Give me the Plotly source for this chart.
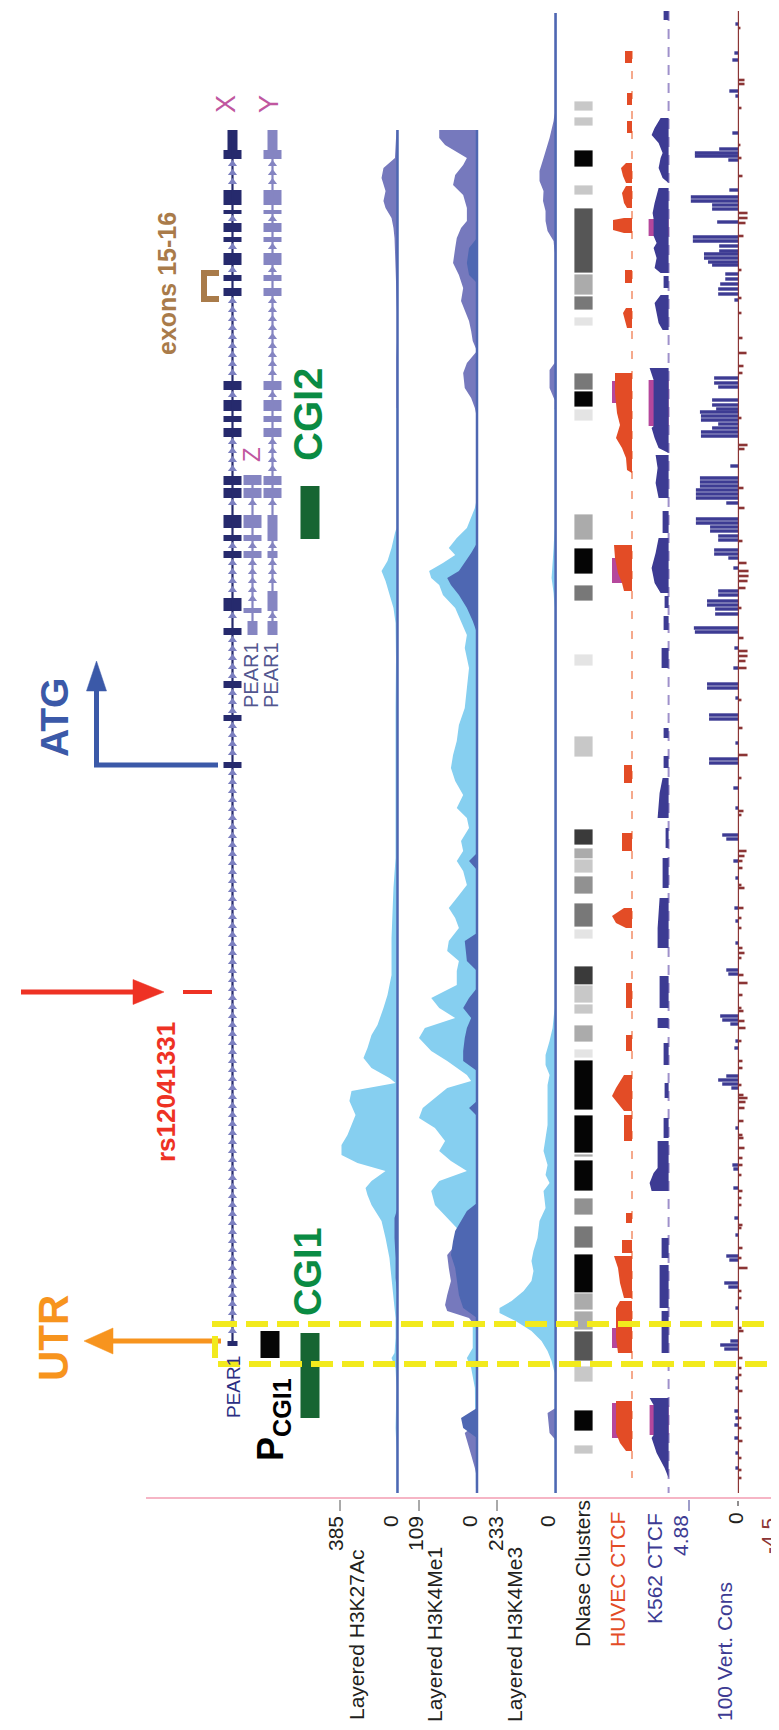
import numpy as np
import plotly.graph_objects as go

W, H = 779, 1730
FONT = "Liberation Sans, Arial, Helvetica, sans-serif"

# ---------------- data (genomic position runs top -> bottom) ----------------
GENE_X_START = [122, 142, 182, 202, 215, 229, 245, 267, 280, 373, 392, 408, 420, 468, 480, 507, 527, 543, 590, 620, 673, 707, 754, 1333]
GENE_X_END = [142, 151, 197, 206, 224, 234, 257, 273, 288, 382, 403, 414, 429, 477, 490, 520, 533, 550, 603, 627, 680, 713, 760, 1338]
GENE_X_THICK = [0, 1, 1, 1, 1, 1, 1, 1, 1, 1, 1, 1, 1, 1, 1, 1, 1, 1, 1, 1, 1, 1, 1, 0]
GENE_Y_START = [122, 142, 182, 202, 215, 229, 245, 267, 280, 373, 392, 408, 420, 468, 480, 507, 543, 583, 613]
GENE_Y_END = [142, 151, 197, 206, 224, 234, 257, 273, 288, 382, 403, 414, 429, 477, 490, 533, 550, 603, 627]
GENE_Y_THICK = [0, 1, 1, 1, 1, 1, 1, 1, 1, 1, 1, 1, 1, 1, 1, 0, 0, 0, 0]
GENE_Z_START = [467, 480, 507, 527, 543, 600, 613]
GENE_Z_END = [477, 490, 520, 533, 550, 605, 627]
GENE_Z_THICK = [1, 1, 1, 1, 1, 1, 0]

PCGI1_START, PCGI1_END = [1323], [1350]
CGI_START = [478, 1325]
CGI_END = [531, 1410]
SNP_POS = [984]

# Layered H3K27Ac (0-385)
K27AC_LAV_POS = [122, 150, 160, 170, 183, 193, 200, 210, 220, 230, 260, 300, 320, 350, 400]
K27AC_LAV_VAL = [7, 17, 94, 107, 80, 94, 80, 40, 27, 20, 13, 7, 0, 7, 7]
K27AC_LB_POS = [400, 520, 525, 540, 553, 563, 573, 587, 600, 615, 650, 700, 750, 800, 850, 880, 930, 967,
                987, 1000, 1017, 1027, 1040, 1050, 1060, 1070, 1075, 1083, 1093, 1107, 1117, 1127, 1137, 1147,
                1155, 1163, 1173, 1180, 1187, 1197, 1213, 1230, 1250, 1270, 1290, 1310, 1330, 1345, 1350, 1360,
                1380, 1420, 1440, 1485]
K27AC_LB_VAL = [7, 7, 17, 40, 67, 107, 80, 54, 27, 13, 10, 13, 13, 10, 13, 27, 40, 40,
                67, 94, 134, 174, 201, 228, 174, 54, 13, 308, 322, 281, 308, 335, 375, 375,
                268, 80, 174, 214, 201, 174, 107, 80, 54, 40, 27, 13, 13, 20, 40, 13,
                7, 13, 7, 7]
K27AC_DK_POS = [1200, 1210, 1230, 1250, 1270, 1290]
K27AC_DK_VAL = [0, 20, 20, 13, 13, 0]

# Layered H3K4Me1 (0-109)
ME1_LB_POS = [410, 490, 500, 510, 520, 530, 540, 547, 555, 563, 570, 577, 587, 600, 613, 627, 640, 660, 680, 700,
              717, 733, 747, 760, 773, 787, 800, 810, 820, 833, 843, 853, 863, 877, 890, 900, 910, 920, 933, 943,
              953, 963, 977, 990, 1000, 1010, 1020, 1030, 1043, 1053, 1067, 1073, 1080, 1090, 1100, 1110, 1120,
              1133, 1143, 1153, 1163, 1173, 1183, 1197, 1210, 1220, 1230, 1240, 1250, 1310, 1320, 1340, 1350,
              1360, 1380, 1480]
ME1_LB_VAL = [0, 0, 4, 11, 19, 38, 53, 41, 64, 90, 86, 71, 64, 41, 30, 19, 23, 15, 19, 23,
              34, 38, 45, 49, 41, 26, 38, 19, 15, 30, 26, 38, 26, 19, 38, 53, 41, 34, 53, 56,
              34, 38, 38, 86, 71, 41, 98, 109, 86, 56, 19, 11, 56, 79, 102, 109, 79,
              60, 71, 49, 19, 71, 86, 79, 56, 38, 30, 15, 11, 11, 8, 8, 19,
              11, 4, 2]
ME1_LAV_POS = [122, 130, 137, 143, 150, 157, 167, 177, 187, 200, 213, 220, 230, 240, 255, 267, 280, 293, 303, 313,
               323, 333, 343, 350, 355, 365, 380, 390, 400, 410, 1230, 1240, 1247, 1260, 1273, 1287, 1297, 1303,
               1310, 1320, 1415, 1425, 1433, 1447, 1460, 1470]
ME1_LAV_VAL = [71, 71, 60, 41, 19, 26, 41, 45, 26, 19, 19, 30, 38, 41, 45, 34, 26, 30, 23, 15,
               11, 8, 0, 11, 19, 26, 23, 11, 4, 0, 0, 45, 56, 53, 49, 56, 60, 56,
               15, 0, 0, 23, 19, 11, 4, 0]
ME1_DK_POS = [230, 240, 255, 267, 275, 535, 545, 555, 563, 570, 577, 587, 600, 613, 625, 845, 853, 862,
              925, 933, 953, 963, 980, 990, 1000, 1010, 1020, 1030, 1043, 1053, 1063, 1093, 1100, 1108,
              1195, 1203, 1213, 1223, 1233, 1247, 1260, 1273, 1287, 1300, 1310, 1400, 1410, 1420, 1430]
ME1_DK_VAL = [0, 15, 19, 15, 0, 0, 11, 23, 34, 56, 49, 34, 19, 8, 0, 0, 15, 0,
              0, 23, 19, 0, 0, 15, 26, 11, 19, 23, 26, 26, 0, 0, 15, 0,
              0, 19, 30, 41, 45, 49, 41, 38, 34, 26, 0, 0, 30, 26, 0]

# Layered H3K4Me3 (0-233)
ME3_LAV_POS = [5, 105, 113, 130, 150, 163, 173, 183, 193, 203, 213, 223, 233, 245, 330, 355, 362, 380, 392, 400,
               405, 1395, 1400, 1405, 1415, 1425, 1432]
ME3_LAV_VAL = [4, 4, 8, 24, 48, 64, 64, 48, 50, 40, 40, 32, 8, 4, 4, 4, 24, 24, 4, 4,
               0, 0, 0, 32, 28, 24, 0]
ME3_LB_POS = [400, 520, 540, 555, 570, 585, 600, 1000, 1020, 1033, 1047, 1057, 1067, 1077, 1090, 1103, 1117,
              1130, 1143, 1157, 1167, 1175, 1183, 1200, 1213, 1230, 1243, 1253, 1263, 1273, 1283, 1293, 1300,
              1305, 1313, 1323, 1333, 1343, 1353, 1365, 1485]
ME3_LB_VAL = [4, 4, 8, 12, 16, 8, 4, 4, 12, 24, 40, 40, 24, 32, 32, 32, 32,
              40, 48, 32, 40, 24, 48, 40, 64, 72, 88, 96, 88, 96, 127, 175, 223,
              223, 159, 96, 56, 32, 16, 4, 4]

# DNase clusters (start, end, score 0-1000)
DNASE_START = [93, 109, 142, 177, 200, 266, 288, 309, 365, 383, 401, 506, 540, 577, 646, 728, 821, 840, 851, 868,
               895, 921, 958, 977, 996, 1017, 1041, 1052, 1107, 1146, 1152, 1190, 1218, 1246, 1285, 1303, 1323,
               1358, 1402, 1437]
DNASE_END = [103, 118, 159, 187, 265, 287, 302, 318, 382, 399, 413, 532, 566, 593, 658, 749, 837, 851, 865, 886,
             919, 931, 977, 995, 1006, 1034, 1050, 1102, 1145, 1149, 1183, 1207, 1240, 1285, 1302, 1322, 1353,
             1374, 1423, 1446]
DNASE_SCORE = [150, 150, 1000, 150, 650, 280, 500, 30, 500, 1000, 30, 280, 1000, 500, 30, 150, 770, 280, 150, 390,
               500, 30, 770, 150, 150, 280, 30, 1000, 1000, 280, 1000, 390, 500, 1000, 280, 280, 650,
               150, 1000, 150]

# HUVEC CTCF signal
HUVEC_POS = [43, 43, 55, 55, 85, 85, 97, 97, 113, 113, 125, 125,
             155, 155, 160, 168, 175, 175, 178, 178, 185, 195, 200, 200,
             210, 210, 212, 222, 225, 225, 262, 262, 275, 275,
             300, 300, 305, 312, 320, 320,
             365, 365, 385, 395, 405, 417, 430, 440, 450, 462, 465,
             537, 537, 550, 565, 575, 583, 583, 757, 757, 775, 775, 825, 825, 843, 843,
             900, 900, 908, 915, 920, 920, 975, 975, 1000, 1000, 1027, 1027, 1043, 1043,
             1067, 1067, 1080, 1088, 1095, 1103, 1103, 1107, 1107, 1133, 1133,
             1205, 1205, 1215, 1215, 1232, 1232, 1245, 1245,
             1248, 1248, 1260, 1275, 1290, 1290, 1293, 1293, 1300, 1330, 1345, 1345,
             1393, 1393, 1425, 1435, 1443, 1443]
HUVEC_VAL = [0, 7, 7, 0, 0, 5, 5, 0, 0, 5, 5, 0,
             0, 6, 11, 9, 6, 0, 0, 6, 10, 8, 5, 0,
             0, 8, 19, 19, 8, 0, 0, 7, 7, 0,
             0, 6, 9, 7, 5, 0,
             0, 17, 17, 16, 15, 12, 16, 10, 6, 5, 0,
             0, 18, 17, 14, 10, 8, 0, 0, 8, 8, 0, 0, 10, 10, 0,
             0, 8, 20, 16, 6, 0, 0, 6, 6, 0, 0, 6, 6, 0,
             0, 8, 16, 20, 14, 8, 0, 0, 8, 8, 0,
             0, 6, 6, 0, 0, 10, 10, 0,
             0, 18, 14, 12, 8, 0, 0, 12, 16, 16, 14, 0,
             0, 16, 16, 12, 6, 0]
HUVEC_OVL_POS = [373, 373, 395, 395, 550, 550, 575, 575, 1320, 1320, 1340, 1340, 1395, 1395, 1430, 1430]
HUVEC_OVL_VAL = [0, 20, 20, 0, 0, 20, 20, 0, 0, 20, 20, 0, 0, 20, 20, 0]

# K562 CTCF signal
K562_POS = [3, 3, 12, 12,
            110, 110, 120, 127, 135, 145, 150, 160, 170, 175,
            180, 180, 195, 205, 211, 228, 235, 240, 250, 260, 265, 265,
            268, 268, 280, 280, 287, 287, 295, 305, 315, 322, 322,
            360, 360, 372, 418, 420, 430, 440, 445,
            447, 447, 460, 475, 490, 490, 503, 503, 525, 525,
            530, 530, 545, 560, 575, 585, 585, 588, 588, 600, 600, 608, 608, 622, 622,
            640, 640, 660, 660, 720, 720, 730, 730, 748, 748, 760, 760,
            770, 770, 785, 810, 810, 820, 820, 840, 840, 850, 850, 880, 880,
            890, 890, 920, 940, 940, 968, 968, 1000, 1000, 1010, 1010, 1020, 1020,
            1035, 1035, 1057, 1057, 1075, 1075, 1090, 1090, 1110, 1110, 1130, 1130,
            1133, 1133, 1160, 1165, 1175, 1183, 1183,
            1230, 1230, 1250, 1250, 1257, 1257, 1300, 1300, 1303, 1303, 1345, 1345,
            1390, 1390, 1397, 1427, 1430, 1445, 1460, 1470]
K562_VAL = [0, 5, 5, 0,
            0, 8, 14, 17, 10, 6, 8, 10, 6, 0,
            0, 10, 14, 16, 15, 15, 12, 15, 12, 14, 8, 0,
            0, 5, 5, 0, 0, 8, 14, 12, 10, 6, 0,
            0, 19, 15, 15, 17, 14, 10, 0,
            0, 13, 11, 13, 10, 0, 0, 6, 6, 0,
            0, 10, 13, 17, 14, 8, 0, 0, 4, 4, 0, 0, 5, 5, 0,
            0, 7, 7, 0, 0, 5, 5, 0, 0, 5, 5, 0,
            0, 6, 9, 11, 0, 0, 3, 3, 0, 0, 6, 6, 0,
            0, 9, 11, 11, 0, 0, 9, 9, 0, 0, 11, 11, 0,
            0, 5, 5, 0, 0, 4, 4, 0, 0, 5, 5, 0,
            0, 11, 11, 15, 19, 17, 0,
            0, 7, 7, 0, 0, 9, 9, 0, 0, 7, 7, 0,
            0, 19, 15, 15, 17, 12, 4, 0]
K562_OVL_POS = [211, 211, 228, 228, 372, 372, 418, 418, 1397, 1397, 1427, 1427]
K562_OVL_VAL = [0, 20, 20, 0, 0, 20, 20, 0, 0, 19, 19, 0]

# 100 Vertebrates conservation
CONS_UP_POS = [16, 45, 52, 83, 88, 125, 141, 145, 148, 152, 182, 189, 193, 197, 201, 214, 229, 233, 238, 243, 246,
               250, 254, 257, 266, 271, 276, 281, 286, 292, 370, 375, 379, 392, 397, 401, 404, 408, 412, 416, 420,
               424, 428, 458, 470, 474, 478, 482, 486, 490, 495, 511, 515, 519, 523, 528, 532, 542, 546, 550, 560,
               583, 587, 593, 597, 601, 606, 620, 624, 640, 660, 676, 680, 690, 707, 711, 735, 751, 755, 780, 800,
               827, 831, 853, 870, 900, 913, 935, 962, 966, 1008, 1012, 1016, 1033, 1040, 1068, 1072, 1076, 1080,
               1120, 1157, 1161, 1180, 1210, 1227, 1248, 1252, 1275, 1279, 1300, 1333, 1337, 1341, 1370, 1380,
               1403, 1410, 1417, 1430, 1445, 1460]
CONS_UP_VAL = [0.3, 0.4, 0.6, 0.9, 0.3, 0.6, 1.9, 4.3, 4.3, 1.0, 0.9, 4.7, 4.7, 2.6, 2.6, 2.1, 4.5, 4.5, 1.9, 1.9, 3.4,
               3.4, 3.0, 2.6, 1.3, 1.3, 1.8, 2.0, 2.0, 0.4, 2.4, 2.4, 2.0, 2.6, 2.6, 2.2, 3.8, 3.7, 3.7, 2.0, 2.6,
               3.7, 3.7, 0.8, 3.8, 3.8, 3.8, 4.2, 4.2, 4.2, 1.2, 4.2, 4.2, 2.8, 2.8, 2.0, 2.0, 2.4, 2.4, 1.0, 0.5,
               2.0, 2.0, 3.1, 3.1, 2.3, 2.3, 4.4, 4.3, 0.4, 0.5, 3.1, 3.1, 0.3, 2.9, 2.9, 0.3, 2.9, 2.9, 0.5, 0.3,
               1.6, 1.2, 0.5, 0.3, 0.4, 0.3, 0.3, 1.2, 1.0, 1.8, 1.6, 0.8, 0.3, 0.4, 1.2, 2.0, 1.6, 0.7,
               0.3, 0.6, 0.5, 0.5, 0.4, 0.3, 1.2, 0.9, 1.4, 1.0, 0.3, 0.8, 1.8, 1.4, 0.3, 0.3,
               0.4, 0.3, 0.4, 0.4, 0.3, 0.3]
CONS_DN_POS = [20, 72, 76, 100, 137, 150, 168, 205, 210, 215, 228, 262, 290, 305, 330, 345, 358, 365, 410, 437, 441,
               480, 500, 533, 555, 563, 568, 573, 580, 600, 630, 643, 648, 653, 660, 692, 720, 747, 770, 803, 807,
               843, 848, 853, 860, 877, 880, 900, 910, 920, 940, 945, 950, 967, 975, 987, 1000, 1003, 1013, 1020,
               1033, 1053, 1060, 1077, 1087, 1090, 1094, 1100, 1113, 1127, 1130, 1140, 1150, 1157, 1167, 1183, 1190,
               1197, 1217, 1220, 1240, 1250, 1260, 1283, 1290, 1320, 1323, 1350, 1360, 1367, 1383, 1410, 1420, 1433,
               1450, 1462, 1470]
CONS_DN_VAL = [-0.2, -0.6, -0.6, -0.3, -0.2, -0.3, -0.4, -0.9, -0.9, -0.7, -0.5, -0.3, -0.3, -0.3, -0.4, -0.8, -0.5,
               -0.4, -0.3, -0.9, -0.6, -0.5, -0.6, -0.4, -0.8, -1.0, -1.0, -0.9, -0.7, -0.3, -0.5, -0.9, -0.9, -0.7,
               -0.8, -0.3, -0.4, -0.9, -0.3, -0.5, -0.3, -0.8, -0.6, -0.4, -0.4, -0.3, -0.6, -0.5, -0.3, -0.3, -0.4,
               -0.6, -0.3, -0.5, -0.9, -0.4, -0.3, -0.5, -0.6, -0.7, -0.3, -0.4, -0.4, -0.3, -0.5, -0.9, -0.7, -0.6,
               -0.5, -0.4, -0.5, -0.6, -0.4, -0.4, -0.3, -0.4, -0.3, -0.3, -0.4, -0.3, -0.4, -0.3, -0.9, -0.3, -0.3,
               -0.3, -0.5, -0.4, -0.3, -0.3, -0.4, -0.3, -0.3, -0.4, -0.3, -0.3, -0.3]

TRACK_LABELS = ["Layered H3K27Ac", "Layered H3K4Me1", "Layered H3K4Me3", "DNase Clusters",
                "HUVEC CTCF", "K562 CTCF", "100 Vert. Cons"]

for a, b in [(K27AC_LAV_POS, K27AC_LAV_VAL), (K27AC_LB_POS, K27AC_LB_VAL), (ME1_LB_POS, ME1_LB_VAL),
             (ME1_LAV_POS, ME1_LAV_VAL), (ME1_DK_POS, ME1_DK_VAL), (ME3_LAV_POS, ME3_LAV_VAL),
             (ME3_LB_POS, ME3_LB_VAL), (HUVEC_POS, HUVEC_VAL), (K562_POS, K562_VAL),
             (CONS_UP_POS, CONS_UP_VAL), (CONS_DN_POS, CONS_DN_VAL), (DNASE_START, DNASE_END),
             (DNASE_START, DNASE_SCORE), (HUVEC_OVL_POS, HUVEC_OVL_VAL), (K562_OVL_POS, K562_OVL_VAL)]:
    assert len(a) == len(b), (len(a), len(b))

# ---------------- colours ----------------
LIGHTBLUE = "#86CFF0"
LAVENDER = "#7679BD"
DARKBLUE = "#4E67B2"
NAVY = "#262A6D"
GENE_LAV = "#8585C2"
CHEVRON = "#7C80C0"
HUVEC_C = "#E34C26"
OVL_C = "#B5479C"
K562_C = "#3D3B93"
CONS_NEG = "#8B3535"
CGI_BAR = "#176532"
CGI_TXT = "#0A8B43"
ORANGE = "#F7941E"
ATG_BLUE = "#3B59A8"
RED = "#EE3224"
YELLOW = "#F2EA1D"
BROWN = "#A97B4A"
MAGENTA = "#C0579F"

fig = go.Figure()


def area(pos, val, color, ax):
    fig.add_trace(go.Scatter(x=val, y=pos, xaxis=ax, yaxis="y", mode="lines",
                             line=dict(width=0, color=color), fill="tozerox", fillcolor=color,
                             hoverinfo="skip", showlegend=False))


def baseline(ax, y0, y1, color, width, dash="solid"):
    fig.add_trace(go.Scatter(x=[0, 0], y=[y0, y1], xaxis=ax, yaxis="y", mode="lines",
                             line=dict(color=color, width=width, dash=dash),
                             hoverinfo="skip", showlegend=False))


# histone tracks
area(K27AC_LAV_POS, K27AC_LAV_VAL, LAVENDER, "x2")
area(K27AC_LB_POS, K27AC_LB_VAL, LIGHTBLUE, "x2")
area(K27AC_DK_POS, K27AC_DK_VAL, DARKBLUE, "x2")
baseline("x2", 122, 1485, DARKBLUE, 2.5)

area(ME1_LB_POS, ME1_LB_VAL, LIGHTBLUE, "x3")
area(ME1_LAV_POS, ME1_LAV_VAL, LAVENDER, "x3")
area(ME1_DK_POS, ME1_DK_VAL, DARKBLUE, "x3")
baseline("x3", 122, 1485, DARKBLUE, 2.5)

area(ME3_LB_POS, ME3_LB_VAL, LIGHTBLUE, "x4")
area(ME3_LAV_POS, ME3_LAV_VAL, LAVENDER, "x4")
baseline("x4", 5, 1485, DARKBLUE, 2.5)

# CTCF
baseline("x5", 43, 1470, "#F5A98C", 2, "8px,12px")
area(HUVEC_OVL_POS, HUVEC_OVL_VAL, OVL_C, "x5")
area(HUVEC_POS, HUVEC_VAL, HUVEC_C, "x5")

baseline("x6", 3, 1485, "#9F91CB", 2, "10px,8px")
area(K562_OVL_POS, K562_OVL_VAL, OVL_C, "x6")
area(K562_POS, K562_VAL, K562_C, "x6")

# conservation
baseline("x7", 3, 1485, CONS_NEG, 1.2)
fig.add_trace(go.Bar(x=CONS_UP_VAL, y=CONS_UP_POS, orientation="h", width=3.4, xaxis="x7", yaxis="y",
                     marker=dict(color=K562_C, line=dict(width=0)), hoverinfo="skip", showlegend=False))
fig.add_trace(go.Bar(x=CONS_DN_VAL, y=CONS_DN_POS, orientation="h", width=2.6, xaxis="x7", yaxis="y",
                     marker=dict(color=CONS_NEG, line=dict(width=0)), hoverinfo="skip", showlegend=False))

# gene models
for name, st, en, th, col, chev in [("X", GENE_X_START, GENE_X_END, GENE_X_THICK, NAVY, CHEVRON),
                                    ("Z", GENE_Z_START, GENE_Z_END, GENE_Z_THICK, GENE_LAV, GENE_LAV),
                                    ("Y", GENE_Y_START, GENE_Y_END, GENE_Y_THICK, GENE_LAV, GENE_LAV)]:
    fig.add_trace(go.Scatter(x=[name, name], y=[st[0], en[-1]], xaxis="x8", yaxis="y", mode="lines",
                             line=dict(color=col, width=2.2), hoverinfo="skip", showlegend=False))
    cp = []
    for i in range(len(st) - 1):
        cp.extend(np.arange(en[i] + 5, st[i + 1] - 3, 9.0).tolist())
    fig.add_trace(go.Scatter(x=[name] * len(cp), y=cp, xaxis="x8", yaxis="y", mode="markers",
                             marker=dict(symbol="triangle-up", size=8, color=chev),
                             hoverinfo="skip", showlegend=False))
    fig.add_trace(go.Bar(x=[name] * len(st), y=[e - s for s, e in zip(st, en)], base=st,
                         width=[0.9 if t else 0.5 for t in th], xaxis="x8", yaxis="y",
                         marker=dict(color=col, line=dict(width=0)), hoverinfo="skip", showlegend=False))


# DNase clusters
def gray(s):
    v = int(round(235 - 0.23 * s))
    return f"rgb({v},{v},{v})"


fig.add_trace(go.Bar(x=["DNase"] * len(DNASE_START), y=[e - s for s, e in zip(DNASE_START, DNASE_END)],
                     base=DNASE_START, width=1, xaxis="x9", yaxis="y",
                     marker=dict(color=[gray(s) for s in DNASE_SCORE], line=dict(width=0.8, color="white")),
                     hoverinfo="skip", showlegend=False))

# promoter / CpG islands
fig.add_trace(go.Bar(x=["P"], y=[PCGI1_END[0] - PCGI1_START[0]], base=PCGI1_START, width=0.95,
                     xaxis="x10", yaxis="y", marker=dict(color="#050505", line=dict(width=0)),
                     hoverinfo="skip", showlegend=False))
fig.add_trace(go.Bar(x=["CGI"] * len(CGI_START), y=[e - s for s, e in zip(CGI_START, CGI_END)], base=CGI_START,
                     width=0.95, xaxis="x10", yaxis="y", marker=dict(color=CGI_BAR, line=dict(width=0)),
                     hoverinfo="skip", showlegend=False))
# SNP
fig.add_trace(go.Bar(x=["rs12041331"], y=[4], base=[SNP_POS[0] - 2], width=1, xaxis="x11", yaxis="y",
                     marker=dict(color=RED, line=dict(width=0)), hoverinfo="skip", showlegend=False))


# ---------------- layout ----------------
def track_axis(left_px, base_px, vmax, pad=6):
    ppu = (base_px - left_px) / vmax
    return dict(domain=[(left_px - pad) / W, (base_px + pad) / W],
                range=[vmax + pad / ppu, -pad / ppu], visible=False, fixedrange=True, anchor="y")


def cat_axis(left_px, right_px, cats):
    return dict(domain=[left_px / W, right_px / W], type="category", categoryorder="array",
                categoryarray=cats, range=[-0.5, len(cats) - 0.5], visible=False, fixedrange=True, anchor="y")


layout_axes = dict(
    xaxis=dict(domain=[0, 1], range=[0, W], visible=False, fixedrange=True),
    yaxis=dict(domain=[0, 1], range=[H, 0], visible=False, fixedrange=True),
    xaxis2=track_axis(332, 389.5, 385),
    xaxis3=track_axis(411, 469, 109),
    xaxis4=track_axis(489, 547.6, 233),
    xaxis5=track_axis(600, 624, 24),
    xaxis6=track_axis(638, 660.6, 22.6),
    xaxis7=dict(domain=[681 / W, 776 / W], range=[4.88, -4.5], visible=False, fixedrange=True, anchor="y"),
    xaxis8=cat_axis(214.5, 274.5, ["X", "Z", "Y"]),
    xaxis9=cat_axis(566, 585, ["DNase"]),
    xaxis10=cat_axis(252, 312, ["P", "gap", "CGI"]),
    xaxis11=cat_axis(175, 204, ["rs12041331"]),
)


def txt(text, x, y, size, color, bold=False, angle=-90):
    t = f"<b>{text}</b>" if bold else text
    return dict(text=t, x=x, y=y, xref="x", yref="y", showarrow=False, textangle=angle,
                xanchor="center", yanchor="middle", font=dict(family=FONT, size=size, color=color))


ann = [
    txt("UTR", 45, 1330, 42, ORANGE, True),
    txt("ATG", 46, 710, 39, ATG_BLUE, True),
    txt("rs12041331", 158, 1084, 26, RED, True),
    txt("exons 15-16", 159, 276, 25, BROWN, True),
    txt("X", 218, 96, 27, MAGENTA),
    txt("Y", 261, 96, 27, MAGENTA),
    txt("Z", 243, 447, 24, MAGENTA),
    txt("PEAR1", 243, 667, 20, "#52568F"),
    txt("PEAR1", 263, 667, 20, "#52568F"),
    txt("PEAR1", 225, 1379, 19, "#2B2E83"),
    txt("CGI2", 300, 407, 40, CGI_TXT, True),
    txt("CGI1", 300, 1264, 38, CGI_TXT, True),
    txt("P<sub>CGI1</sub>", 265, 1412, 36, "#000000", True),
    # axis values
    txt("385", 327, 1526, 21, "#231F20"),
    txt("0", 382, 1513, 21, "#231F20"),
    txt("109", 407, 1526, 21, "#231F20"),
    txt("0", 461, 1513, 21, "#231F20"),
    txt("233", 487, 1526, 21, "#231F20"),
    txt("0", 539, 1513, 21, "#231F20"),
    txt("4.88", 672, 1528, 21, K562_C),
    txt("0", 727, 1510, 21, "#231F20"),
    txt("-4.5", 760, 1528, 21, CONS_NEG),
    # track labels
    txt(TRACK_LABELS[0], 348, 1627, 21, "#231F20"),
    txt(TRACK_LABELS[1], 426, 1627, 21, "#231F20"),
    txt(TRACK_LABELS[2], 506, 1627, 21, "#231F20"),
    txt(TRACK_LABELS[3], 574, 1566, 21, "#231F20"),
    txt(TRACK_LABELS[4], 609, 1572, 21, HUVEC_C),
    txt(TRACK_LABELS[5], 646, 1561, 21, K562_C),
    txt(TRACK_LABELS[6], 716, 1644, 21, K562_C),
]


def arrow_shapes(tip, tail, head_len, head_half, color, lw):
    (tx, ty), (sx, sy) = tip, tail
    L = ((tx - sx) ** 2 + (ty - sy) ** 2) ** 0.5
    dx, dy = (tx - sx) / L, (ty - sy) / L
    bx, by = tx - dx * head_len, ty - dy * head_len
    px, py = -dy * head_half, dx * head_half
    return [
        dict(type="line", xref="x", yref="y", x0=sx, y0=sy, x1=bx + dx * 2, y1=by + dy * 2,
             line=dict(color=color, width=lw)),
        dict(type="path", xref="x", yref="y",
             path=f"M {tx} {ty} L {bx + px} {by + py} L {bx - px} {by - py} Z",
             fillcolor=color, line=dict(color=color, width=0.5)),
    ]


shapes = [
    dict(type="line", xref="x", yref="y", x0=138, x1=779, y0=1490, y1=1490, line=dict(color="#F6B5C5", width=2)),
    dict(type="path", xref="x", yref="y", path="M 210 757 L 88.5 757 L 88.5 700",
         line=dict(color=ATG_BLUE, width=5)),
    dict(type="path", xref="x", yref="y", path="M 211 265 L 196 265 L 196 291 L 211 291",
         line=dict(color=BROWN, width=6)),
    dict(type="line", xref="x", yref="y", x0=730, x1=730, y0=1493, y1=1498, line=dict(color="#231F20", width=1)),
]
shapes += arrow_shapes((76, 1333), (213, 1333), 29, 13, ORANGE, 5)
shapes += arrow_shapes((88.5, 653), (88.5, 757), 30, 10, ATG_BLUE, 5)
shapes += arrow_shapes((156, 984), (13, 984), 31, 12.5, RED, 5)
for xt, col in [(332, "#555555"), (411, "#555555"), (489, "#555555"), (681, K562_C)]:
    shapes.append(dict(type="line", xref="x", yref="y", x0=xt, x1=xt, y0=1492, y1=1503,
                       line=dict(color=col, width=1)))
shapes.append(dict(type="rect", xref="x", yref="y", x0=207, x1=773, y0=1316, y1=1356, layer="above",
                   line=dict(color=YELLOW, width=6, dash="22px,9px")))

fig.update_layout(width=W, height=H, margin=dict(l=0, r=0, t=0, b=0), autosize=False,
                  paper_bgcolor="white", plot_bgcolor="rgba(0,0,0,0)", showlegend=False,
                  barmode="overlay", hovermode=False, font=dict(family=FONT),
                  annotations=ann, shapes=shapes, **layout_axes)

fig.write_html("out.html")
